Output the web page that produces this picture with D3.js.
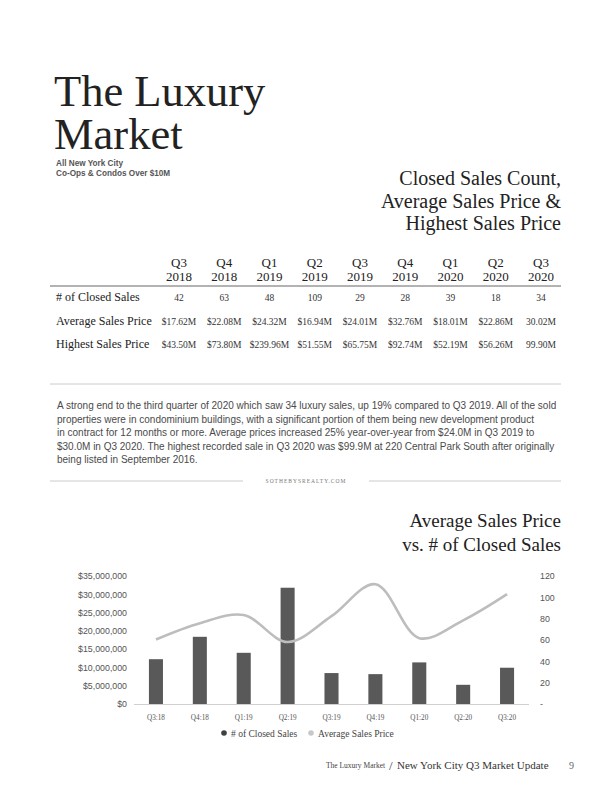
<!DOCTYPE html>
<html><head><meta charset="utf-8">
<script src="https://cdn.jsdelivr.net/npm/d3@7/dist/d3.min.js"></script>
<style>
html,body{margin:0;padding:0;background:#fff;}
svg{display:block;}
</style></head>
<body>
<script>
const quarters = ["Q3","Q4","Q1","Q2","Q3","Q4","Q1","Q2","Q3"];
const years = ["2018","2018","2019","2019","2019","2019","2020","2020","2020"];
const rowLabels = ["# of Closed Sales","Average Sales Price","Highest Sales Price"];
const closedSales = [42,63,48,109,29,28,39,18,34];
const avgPriceText = ["$17.62M","$22.08M","$24.32M","$16.94M","$24.01M","$32.76M","$18.01M","$22.86M","30.02M"];
const highPriceText = ["$43.50M","$73.80M","$239.96M","$51.55M","$65.75M","$92.74M","$52.19M","$56.26M","99.90M"];
const avgPrice = [17620000,22080000,24320000,16940000,24010000,32760000,18010000,22860000,30020000];
const chartLabels = ["Q3:18","Q4:18","Q1:19","Q2:19","Q3:19","Q4:19","Q1:20","Q2:20","Q3:20"];
const leftTicks = [0,5000000,10000000,15000000,20000000,25000000,30000000,35000000];
const rightTicks = [0,20,40,60,80,100,120];
const legendItems = ["# of Closed Sales","Average Sales Price"];

const SERIF = "'Liberation Serif','DejaVu Serif',serif";
const SANS = "'Liberation Sans','DejaVu Sans',sans-serif";

const svg = d3.select("body").append("svg").attr("width",612).attr("height",792);

// Title
svg.append("text").attr("x",54).attr("y",105.5).attr("font-family",SERIF).attr("font-size",44.5).attr("fill","#222").text("The Luxury");
svg.append("text").attr("x",54).attr("y",148.5).attr("font-family",SERIF).attr("font-size",44.5).attr("fill","#222").text("Market");
svg.append("text").attr("x",56).attr("y",165.5).attr("font-family",SANS).attr("font-weight","bold").attr("font-size",8.2).attr("fill","#555").text("All New York City");
svg.append("text").attr("x",56).attr("y",175.5).attr("font-family",SANS).attr("font-weight","bold").attr("font-size",8.2).attr("fill","#555").text("Co-Ops & Condos Over $10M");

// Right heading
["Closed Sales Count,","Average Sales Price &","Highest Sales Price"].forEach((t,i)=>{
  svg.append("text").attr("x",561).attr("y",185+i*22.5).attr("text-anchor","end")
    .attr("font-family",SERIF).attr("font-size",20).attr("fill","#222").text(t);
});

// Table
const colX = d3.scalePoint().domain(d3.range(quarters.length)).range([179,541]);
const head = svg.append("g").attr("font-family",SERIF).attr("font-size",13).attr("fill","#222").attr("text-anchor","middle");
quarters.forEach((q,i)=>{
  head.append("text").attr("x",colX(i)).attr("y",267).text(q);
  head.append("text").attr("x",colX(i)).attr("y",281).text(years[i]);
});
svg.append("line").attr("x1",50).attr("x2",561).attr("y1",286).attr("y2",286).attr("stroke","#666").attr("stroke-width",1);

const rows = [closedSales.map(String), avgPriceText, highPriceText];
const rowY = [301,325,348];
rowLabels.forEach((lab,r)=>{
  svg.append("text").attr("x",56).attr("y",rowY[r]).attr("font-family",SERIF).attr("font-size",12).attr("fill","#222").text(lab);
  rows[r].forEach((v,i)=>{
    svg.append("text").attr("x",colX(i)).attr("y",rowY[r]).attr("text-anchor","middle")
      .attr("font-family",SERIF).attr("font-size",9.5).attr("fill","#333").text(v);
  });
});

svg.append("line").attr("x1",50).attr("x2",561).attr("y1",384).attr("y2",384).attr("stroke","#ccc").attr("stroke-width",1);

// Paragraph
const para = [
 "A strong end to the third quarter of 2020 which saw 34 luxury sales, up 19% compared to Q3 2019. All of the sold",
 "properties were in condominium buildings, with a significant portion of them being new development product",
 "in contract for 12 months or more. Average prices increased 25% year-over-year from $24.0M in Q3 2019 to",
 "$30.0M in Q3 2020. The highest recorded sale in Q3 2020 was $99.9M at 220 Central Park South after originally",
 "being listed in September 2016."
];
para.forEach((t,i)=>{
  svg.append("text").attr("x",57).attr("y",409+i*13.6).attr("font-family",SANS).attr("font-size",10).attr("fill","#4a4a4a").text(t);
});

// sothebysrealty
svg.append("line").attr("x1",50).attr("x2",243).attr("y1",481).attr("y2",481).attr("stroke","#ccc");
svg.append("line").attr("x1",369).attr("x2",561).attr("y1",481).attr("y2",481).attr("stroke","#ccc");
svg.append("text").attr("x",306).attr("y",483).attr("text-anchor","middle").attr("font-family",SERIF).attr("font-size",5.5).attr("letter-spacing",1).attr("fill","#777").text("SOTHEBYSREALTY.COM");

// Chart heading
svg.append("text").attr("x",561).attr("y",527).attr("text-anchor","end").attr("font-family",SERIF).attr("font-size",19).attr("fill","#222").text("Average Sales Price");
svg.append("text").attr("x",561).attr("y",551).attr("text-anchor","end").attr("font-family",SERIF).attr("font-size",19).attr("fill","#222").text("vs. # of Closed Sales");

// Chart
const x = d3.scaleBand().domain(chartLabels).range([134,529]).paddingInner(0.68).paddingOuter(0.34);
const yL = d3.scaleLinear().domain([0,35000000]).range([704,576]);
const yR = d3.scaleLinear().domain([0,120]).range([704,576]);

const axL = svg.append("g").attr("transform","translate(127,0)")
  .call(d3.axisLeft(yL).tickValues(leftTicks).tickSize(0).tickPadding(0).tickFormat(d3.format("$,.0f")));
axL.select(".domain").remove();
axL.selectAll("text").attr("font-family",SANS).attr("font-size",8.8).attr("fill","#555");

const axR = svg.append("g").attr("transform","translate(540,0)")
  .call(d3.axisRight(yR).tickValues(rightTicks).tickSize(0).tickPadding(0).tickFormat(d=>d===0?"-":d));
axR.select(".domain").remove();
axR.selectAll("text").attr("font-family",SANS).attr("font-size",8.8).attr("fill","#555");

svg.append("g").selectAll("rect").data(closedSales).join("rect")
  .attr("x",(d,i)=>x(chartLabels[i])).attr("width",x.bandwidth())
  .attr("y",d=>yR(d)).attr("height",d=>yR(0)-yR(d)).attr("fill","#595959");

svg.append("line").attr("x1",134).attr("x2",529).attr("y1",704.5).attr("y2",704.5).attr("stroke","#d0d0d0").attr("stroke-width",1);

const line = d3.line().x((d,i)=>x(chartLabels[i])+x.bandwidth()/2).y(d=>yL(d)).curve(d3.curveCatmullRom.alpha(0.5));
svg.append("path").datum(avgPrice).attr("d",line).attr("fill","none").attr("stroke","#bdbdbd").attr("stroke-width",2.6);

const axB = svg.append("g").attr("transform","translate(0,704)")
  .call(d3.axisBottom(x).tickSize(0).tickPadding(11));
axB.select(".domain").remove();
axB.selectAll("text").attr("font-family",SERIF).attr("font-size",7.2).attr("fill","#555");

// Legend
const legColors = ["#404040","#c8c8c8"];
const legX = [224,311];
legendItems.forEach((t,i)=>{
  svg.append("circle").attr("cx",legX[i]).attr("cy",733).attr("r",2.8).attr("fill",legColors[i]);
  svg.append("text").attr("x",legX[i]+7).attr("y",736.5).attr("font-family",SERIF).attr("font-size",9.5).attr("fill","#444").text(t);
});

// Footer
svg.append("text").attr("x",326).attr("y",768).attr("font-family",SERIF).attr("font-size",7.5).attr("fill","#444").text("The Luxury Market");
svg.append("text").attr("x",389).attr("y",770).attr("font-family",SERIF).attr("font-size",13).attr("fill","#444").text("/");
svg.append("text").attr("x",397).attr("y",769).attr("font-family",SERIF).attr("font-size",11).attr("fill","#333").text("New York City Q3 Market Update");
svg.append("text").attr("x",569).attr("y",769).attr("font-family",SERIF).attr("font-size",10).attr("fill","#666").text("9");
</script>
</body></html>
